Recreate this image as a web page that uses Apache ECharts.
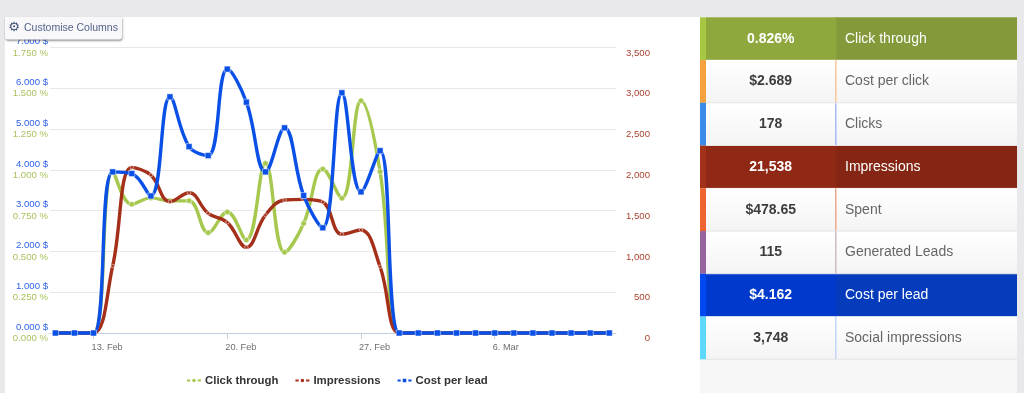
<!DOCTYPE html>
<html><head><meta charset="utf-8">
<style>html,body{margin:0;padding:0;background:#e9e9eb;overflow:hidden}#c{width:1024px;height:393px}</style>
<script src="https://cdn.jsdelivr.net/npm/echarts@6/dist/echarts.min.js"></script>
</head><body><div id="c"></div>
<script>
var dayLabels = ['11. Feb','12. Feb','13. Feb','14. Feb','15. Feb','16. Feb','17. Feb','18. Feb','19. Feb','20. Feb','21. Feb','22. Feb','23. Feb','24. Feb','25. Feb','26. Feb','27. Feb','28. Feb','1. Mar','2. Mar','3. Mar','4. Mar','5. Mar','6. Mar','7. Mar','8. Mar','9. Mar','10. Mar','11. Mar','12. Mar'];
var tickDays = [2, 9, 16, 23];
var clickThrough = [0,0,0,0.989,0.789,0.828,0.81,0.81,0.615,0.742,0.57,1.04,0.495,0.672,1.005,0.826,1.424,0.989,0,0,0,0,0,0,0,0,0,0,0,0];
var impressions = [0,0,0,821,2030,1936,1609,1719,1467,1356,1050,1446,1630,1638,1605,1210,1262,812,0,0,0,0,0,0,0,0,0,0,0,0];
var costPerLead = [0,0,0,3.95,3.91,3.36,5.79,4.57,4.35,6.47,5.66,3.95,5.03,3.37,2.58,5.89,3.46,4.47,0,0,0,0,0,0,0,0,0,0,0,0];
var metricValues = ['0.826%','$2.689','178','21,538','$478.65','115','$4.162','3,748'];
var metricNames = ['Click through','Cost per click','Clicks','Impressions','Spent','Generated Leads','Cost per lead','Social impressions'];
var stripColors = ['#a6c644','#f6a140','#3b8be8','#a33018','#ee6330','#95649d','#0048f0','#5ed8fb'];
var dividerColors = ['#8ea83e','#f8c79b','#a4bdfa','#8f2814','#eda98b','#d0b9c0','#0039cc','#c3d6fb'];
var valueFills = ['#8ea83e',null,null,'#8f2814',null,null,'#0039cc',null];
var nameFills = ['#84993a',null,null,'#852513',null,null,'#063cbc',null];

function pair(a){return a.map(function(v,i){return [i,v];});}
var font = 'Liberation Sans';
var rowGrad = {type:'linear',x:0,y:0,x2:0,y2:1,colorStops:[{offset:0,color:'#ffffff'},{offset:1,color:'#f4f4f4'}]};
var gfx = [
  {type:'rect',z:-10,silent:true,shape:{x:5,y:17,width:695,height:376},style:{fill:'#ffffff'}},
  {type:'rect',z:-10,silent:true,shape:{x:700,y:17,width:317,height:376},style:{fill:'#f7f7f7'}}
];
var rowTop = 17.3, rowH = 42.75;
metricValues.forEach(function(v,i){
  var y = rowTop + i*rowH, sel = !!valueFills[i];
  gfx.push({type:'rect',z:-5,silent:true,shape:{x:706,y:y,width:130,height:rowH},style:{fill:sel?valueFills[i]:rowGrad}});
  gfx.push({type:'rect',z:-5,silent:true,shape:{x:836,y:y,width:181,height:rowH},style:{fill:sel?nameFills[i]:rowGrad}});
  gfx.push({type:'rect',z:-4,silent:true,shape:{x:700,y:y,width:6,height:rowH},style:{fill:stripColors[i]}});
  gfx.push({type:'rect',z:-4,silent:true,shape:{x:835,y:y,width:1.5,height:rowH},style:{fill:dividerColors[i]}});
  gfx.push({type:'rect',z:-3,silent:true,shape:{x:706,y:y+rowH-0.5,width:311,height:1},style:{fill:sel?'rgba(255,255,255,0.35)':'#e4e4e4'}});
  gfx.push({type:'text',z:5,silent:true,style:{x:770.7,y:y+rowH/2,text:v,align:'center',verticalAlign:'middle',font:'bold 14px "'+font+'"',fill:sel?'#ffffff':'#3d3d3d'}});
  gfx.push({type:'text',z:5,silent:true,style:{x:845,y:y+rowH/2,text:metricNames[i],align:'left',verticalAlign:'middle',font:'14px "'+font+'"',fill:sel?'#ffffff':'#666666'}});
});
gfx.push({type:'rect',z:100,silent:true,shape:{x:5,y:17,width:117,height:22.5,r:[0,0,3,3]},style:{fill:'#f8f8fa',shadowColor:'rgba(0,0,0,0.4)',shadowBlur:2,shadowOffsetX:0.5,shadowOffsetY:1.5}});
gfx.push({type:'text',z:101,silent:true,style:{x:14,y:28,text:'\u2699',align:'center',verticalAlign:'middle',font:'bold 13px "DejaVu Sans"',fill:'#3f5078'}});
gfx.push({type:'text',z:101,silent:true,style:{x:24,y:28,text:'Customise Columns',align:'left',verticalAlign:'middle',font:'10.5px "'+font+'"',fill:'#55648a'}});

function mk(name,data,idx,color,symbol,size,z){
  return {name:name,type:'line',yAxisIndex:idx,data:pair(data),smooth:0.4,z:z,showSymbol:true,symbol:symbol,symbolSize:size,
    lineStyle:{color:color,width:3.4},itemStyle:{color:color,borderColor:'#ffffff',borderWidth:0.5},emphasis:{disabled:true},animation:false,clip:false};
}
var chart = echarts.init(document.getElementById('c'),null,{renderer:'canvas'});
chart.setOption({
  animation:false,
  backgroundColor:'#e9e9eb',
  textStyle:{fontFamily:font},
  grid:{left:50,right:408,top:47.5,bottom:60},
  legend:{left:186,top:375,padding:0,itemWidth:14,itemHeight:7,itemGap:16,selectedMode:false,
    textStyle:{fontFamily:font,fontWeight:'bold',fontSize:11.4,color:'#333333',padding:[0,0,0,-1]},
    data:['Click through','Impressions','Cost per lead']},
  xAxis:{type:'value',min:-0.28,max:29.35,
    splitLine:{show:false},
    axisLine:{show:true,lineStyle:{color:'#c0d0e0',width:1}},
    axisTick:{show:true,customValues:tickDays,length:6,lineStyle:{color:'#c0d0e0'}},
    axisLabel:{customValues:tickDays,align:'left',margin:10,fontSize:9.2,color:'#6e6e70',fontFamily:font,padding:[0,0,0,-2],
      formatter:function(v){return dayLabels[v];}}},
  yAxis:[
    {type:'value',position:'left',min:0,max:7,interval:1,
      splitLine:{show:true,lineStyle:{color:'#e8e8ec',width:1}},axisLine:{show:false},axisTick:{show:false},
      axisLabel:{margin:2,fontSize:9.6,color:'#2f62e8',verticalAlign:'bottom',lineHeight:12,fontFamily:font,formatter:function(v){return v.toFixed(3)+' $';}}},
    {type:'value',position:'left',min:0,max:1.75,interval:0.25,
      splitLine:{show:false},axisLine:{show:false},axisTick:{show:false},
      axisLabel:{margin:2,fontSize:9.6,color:'#a9c25f',verticalAlign:'top',lineHeight:11,fontFamily:font,formatter:function(v){return v.toFixed(3)+' %';}}},
    {type:'value',position:'right',min:0,max:3500,interval:500,
      splitLine:{show:false},axisLine:{show:false},axisTick:{show:false},
      axisLabel:{margin:34,align:'right',fontSize:9.6,color:'#a9432e',verticalAlign:'top',lineHeight:11,fontFamily:font,formatter:function(v){return v.toLocaleString('en-US');}}}
  ],
  series:[
    mk('Click through',clickThrough,1,'#a6c84e','circle',5.5,2),
    mk('Impressions',impressions,2,'#a5301a','circle',3.5,3),
    mk('Cost per lead',costPerLead,0,'#0a50e6','rect',6,4)
  ],
  graphic:{elements:gfx}
});
</script></body></html>
